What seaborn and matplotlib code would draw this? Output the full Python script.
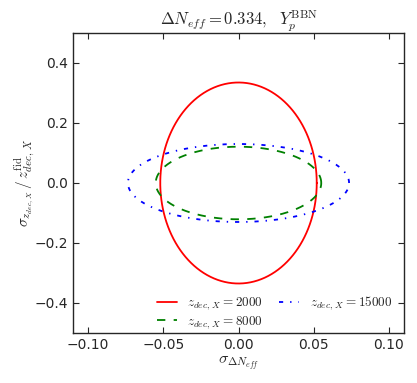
import numpy as np
import pandas as pd
import seaborn as sns
import matplotlib
matplotlib.use('Agg')
import matplotlib.pyplot as plt

# semi-axes of the 1-sigma forecast ellipses
z_dec = [2000, 8000, 15000]
sigma_neff = [0.052, 0.055, 0.0735]
sigma_zdec = [0.335, 0.121, 0.130]
colors = ['#ff0000', '#008000', '#0000ff']
styles = ['-', '--', '-.']

sns.set_style('ticks')
plt.rcParams['mathtext.fontset'] = 'cm'
plt.rcParams['font.family'] = ['DejaVu Sans']
plt.rcParams['xtick.direction'] = 'in'
plt.rcParams['ytick.direction'] = 'in'
plt.rcParams['xtick.top'] = True
plt.rcParams['ytick.right'] = True
plt.rcParams['lines.scale_dashes'] = False
plt.rcParams['lines.dashed_pattern'] = [6, 6]
plt.rcParams['lines.dashdot_pattern'] = [3, 5, 1, 5]

t = np.linspace(0, 2 * np.pi, 400)
frames = []
for z, a, b in zip(z_dec, sigma_neff, sigma_zdec):
    frames.append(pd.DataFrame({'x': a * np.cos(t), 'y': b * np.sin(t),
                                'label': r'$z_{dec,\, X}=%d$' % z}))
df = pd.concat(frames, ignore_index=True)

fig = plt.figure(figsize=(4.17, 3.83), dpi=100)
ax = fig.add_axes([73 / 417, 1 - 333 / 383, 331 / 417, 300 / 383])

for (lab, sub), c, ls in zip(df.groupby('label', sort=False), colors, styles):
    sns.lineplot(x='x', y='y', data=sub, sort=False, estimator=None, color=c,
                 linestyle=ls, lw=1.3, label=lab, ax=ax)

ax.set_xlim(-0.11, 0.11)
ax.set_ylim(-0.5, 0.5)
ax.set_xticks([-0.10, -0.05, 0.0, 0.05, 0.10])
ax.set_yticks([-0.4, -0.2, 0.0, 0.2, 0.4])
ax.tick_params(labelsize=10, length=4, width=0.8)
for s in ax.spines.values():
    s.set_linewidth(1.0)

ax.set_xlabel(r'$\sigma_{\Delta N_{eff}}$', fontsize=11.5, labelpad=2)
ax.set_ylabel(r'$\sigma_{z_{dec,\, X}}\,/\,z_{dec,\, X}^{\rm fid}$', fontsize=11, labelpad=-1)
ax.set_title(r'$\Delta N_{eff}=0.334,\ \ Y_p^{\rm BBN}$', fontsize=12, pad=0)
ax.legend(loc='lower right', bbox_to_anchor=(1, -0.033), ncol=2, frameon=False,
          fontsize=9.5, handlelength=1.5, columnspacing=1.2, labelspacing=0.15,
          handletextpad=0.8, borderaxespad=0.5)

fig.savefig('out.png', dpi=100)
plt.close()
